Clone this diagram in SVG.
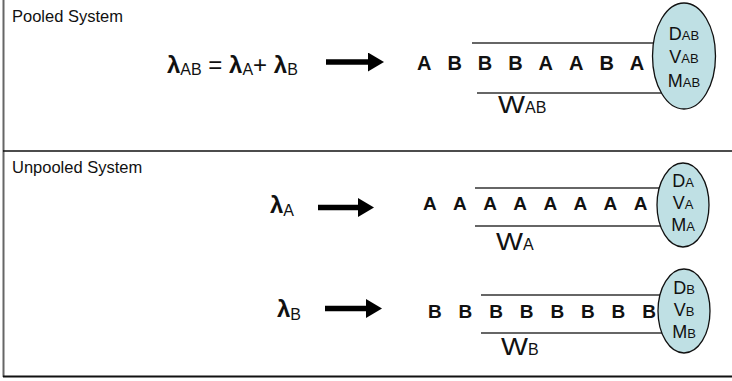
<svg xmlns="http://www.w3.org/2000/svg" width="732" height="381" viewBox="0 0 732 381">
  <style>
    text { font-family: "Liberation Sans", Arial, sans-serif; fill: #111; }
    .title { font-size: 16.5px; }
    .lam { font-size: 24px; }
    .l { font-weight: bold; }
    .sub { font-size: 16px; }
    .job { font-size: 19px; font-weight: bold; }
    .jobL { font-size: 20px; font-weight: bold; }
    .w { font-size: 24px; }
    .wsub { font-size: 16px; }
    .srv { font-size: 18px; text-anchor: middle; }
    .srvsub { font-size: 13px; }
    .rail { stroke: #333; stroke-width: 1.3; }
    .server { fill: #bfe0e4; stroke: #111; stroke-width: 1.3; }
    .arrow { stroke: #000; stroke-width: 5.5; fill: none; }
  </style>
  <defs>
    <marker id="head" markerUnits="userSpaceOnUse" markerWidth="16" markerHeight="19" viewBox="0 0 16 19" refX="0" refY="9.5" orient="auto">
      <path d="M0,0 L16,9.5 L0,19 Z" fill="#000"/>
    </marker>
  </defs>

  <rect width="732" height="381" fill="#fff"/>

  <!-- outer frame and section divider -->
  <g id="frame">
    <line x1="3.5" y1="0" x2="3.5" y2="377" stroke="#666" stroke-width="2"/>
    <line x1="3" y1="376.5" x2="732" y2="376.5" stroke="#111" stroke-width="2"/>
    <line x1="3" y1="151" x2="732" y2="151" stroke="#111" stroke-width="1.5"/>
  </g>

  <!-- pooled system -->
  <g id="pooled-title">
    <text class="title" x="12" y="22">Pooled System</text>
  </g>
  <g id="pooled-arrivals">
    <text class="lam" x="167" y="73"><tspan class="l">λ</tspan><tspan class="sub" dy="2">AB</tspan><tspan dy="-2"> = </tspan><tspan class="l">λ</tspan><tspan class="sub" dy="2">A</tspan><tspan dy="-2">+ </tspan><tspan class="l">λ</tspan><tspan class="sub" dy="2">B</tspan></text>
  </g>
  <g id="pooled-queue">
    <line class="rail" x1="472" y1="43" x2="684" y2="43"/>
    <line class="rail" x1="477" y1="93" x2="684" y2="93"/>
    <text class="jobL" x="417" y="70">A</text>
    <text class="jobL" x="447.4" y="70">B</text>
    <text class="jobL" x="477.8" y="70">B</text>
    <text class="jobL" x="508.2" y="70">B</text>
    <text class="jobL" x="538.6" y="70">A</text>
    <text class="jobL" x="569" y="70">A</text>
    <text class="jobL" x="599.4" y="70">B</text>
    <text class="jobL" x="629.8" y="70">A</text>
    <text class="w" x="498" y="113"><tspan textLength="27" lengthAdjust="spacingAndGlyphs">W</tspan><tspan class="wsub">AB</tspan></text>
  </g>
  <g id="pooled-server">
    <ellipse class="server" cx="684" cy="56" rx="31.5" ry="53"/>
    <text class="srv" x="684" y="40">D<tspan class="srvsub">AB</tspan></text>
    <text class="srv" x="684" y="63">V<tspan class="srvsub">AB</tspan></text>
    <text class="srv" x="684" y="87">M<tspan class="srvsub">AB</tspan></text>
  </g>

  <!-- unpooled system -->
  <g id="unpooled-title">
    <text class="title" x="12" y="173">Unpooled System</text>
  </g>
  <g id="arrivals-a">
    <text class="lam" x="270" y="213"><tspan class="l">λ</tspan><tspan class="sub" dy="3">A</tspan></text>
  </g>
  <g id="queue-a">
    <line class="rail" x1="475" y1="188" x2="683" y2="188"/>
    <line class="rail" x1="475" y1="226" x2="683" y2="226"/>
    <text class="job" x="423" y="210">A</text>
    <text class="job" x="453.1" y="210">A</text>
    <text class="job" x="483.2" y="210">A</text>
    <text class="job" x="513.3" y="210">A</text>
    <text class="job" x="543.4" y="210">A</text>
    <text class="job" x="573.5" y="210">A</text>
    <text class="job" x="603.6" y="210">A</text>
    <text class="job" x="633.7" y="210">A</text>
    <text class="w" x="496" y="250"><tspan textLength="27" lengthAdjust="spacingAndGlyphs">W</tspan><tspan class="wsub">A</tspan></text>
  </g>
  <g id="server-a">
    <ellipse class="server" cx="683" cy="205" rx="26" ry="42"/>
    <text class="srv" x="683" y="187">D<tspan class="srvsub">A</tspan></text>
    <text class="srv" x="683" y="209">V<tspan class="srvsub">A</tspan></text>
    <text class="srv" x="683" y="231">M<tspan class="srvsub">A</tspan></text>
  </g>

  <g id="arrivals-b">
    <text class="lam" x="277" y="317"><tspan class="l">λ</tspan><tspan class="sub" dy="3">B</tspan></text>
  </g>
  <g id="queue-b">
    <line class="rail" x1="481" y1="295" x2="684" y2="295"/>
    <line class="rail" x1="481" y1="333" x2="684" y2="333"/>
    <text class="job" x="428" y="318">B</text>
    <text class="job" x="458.6" y="318">B</text>
    <text class="job" x="489.2" y="318">B</text>
    <text class="job" x="519.8" y="318">B</text>
    <text class="job" x="550.4" y="318">B</text>
    <text class="job" x="581" y="318">B</text>
    <text class="job" x="611.6" y="318">B</text>
    <text class="job" x="642.2" y="318">B</text>
    <text class="w" x="501" y="355"><tspan textLength="27" lengthAdjust="spacingAndGlyphs">W</tspan><tspan class="wsub">B</tspan></text>
  </g>
  <g id="server-b">
    <ellipse class="server" cx="684" cy="311" rx="26" ry="42"/>
    <text class="srv" x="684" y="294">D<tspan class="srvsub">B</tspan></text>
    <text class="srv" x="684" y="316">V<tspan class="srvsub">B</tspan></text>
    <text class="srv" x="684" y="338">M<tspan class="srvsub">B</tspan></text>
  </g>

  <!-- arrival arrows -->
  <g id="connectors">
    <line class="arrow" x1="326" y1="62" x2="368" y2="62" marker-end="url(#head)"/>
    <line class="arrow" x1="318" y1="207.5" x2="358" y2="207.5" marker-end="url(#head)"/>
    <line class="arrow" x1="325" y1="308.5" x2="366" y2="308.5" marker-end="url(#head)"/>
  </g>
</svg>
